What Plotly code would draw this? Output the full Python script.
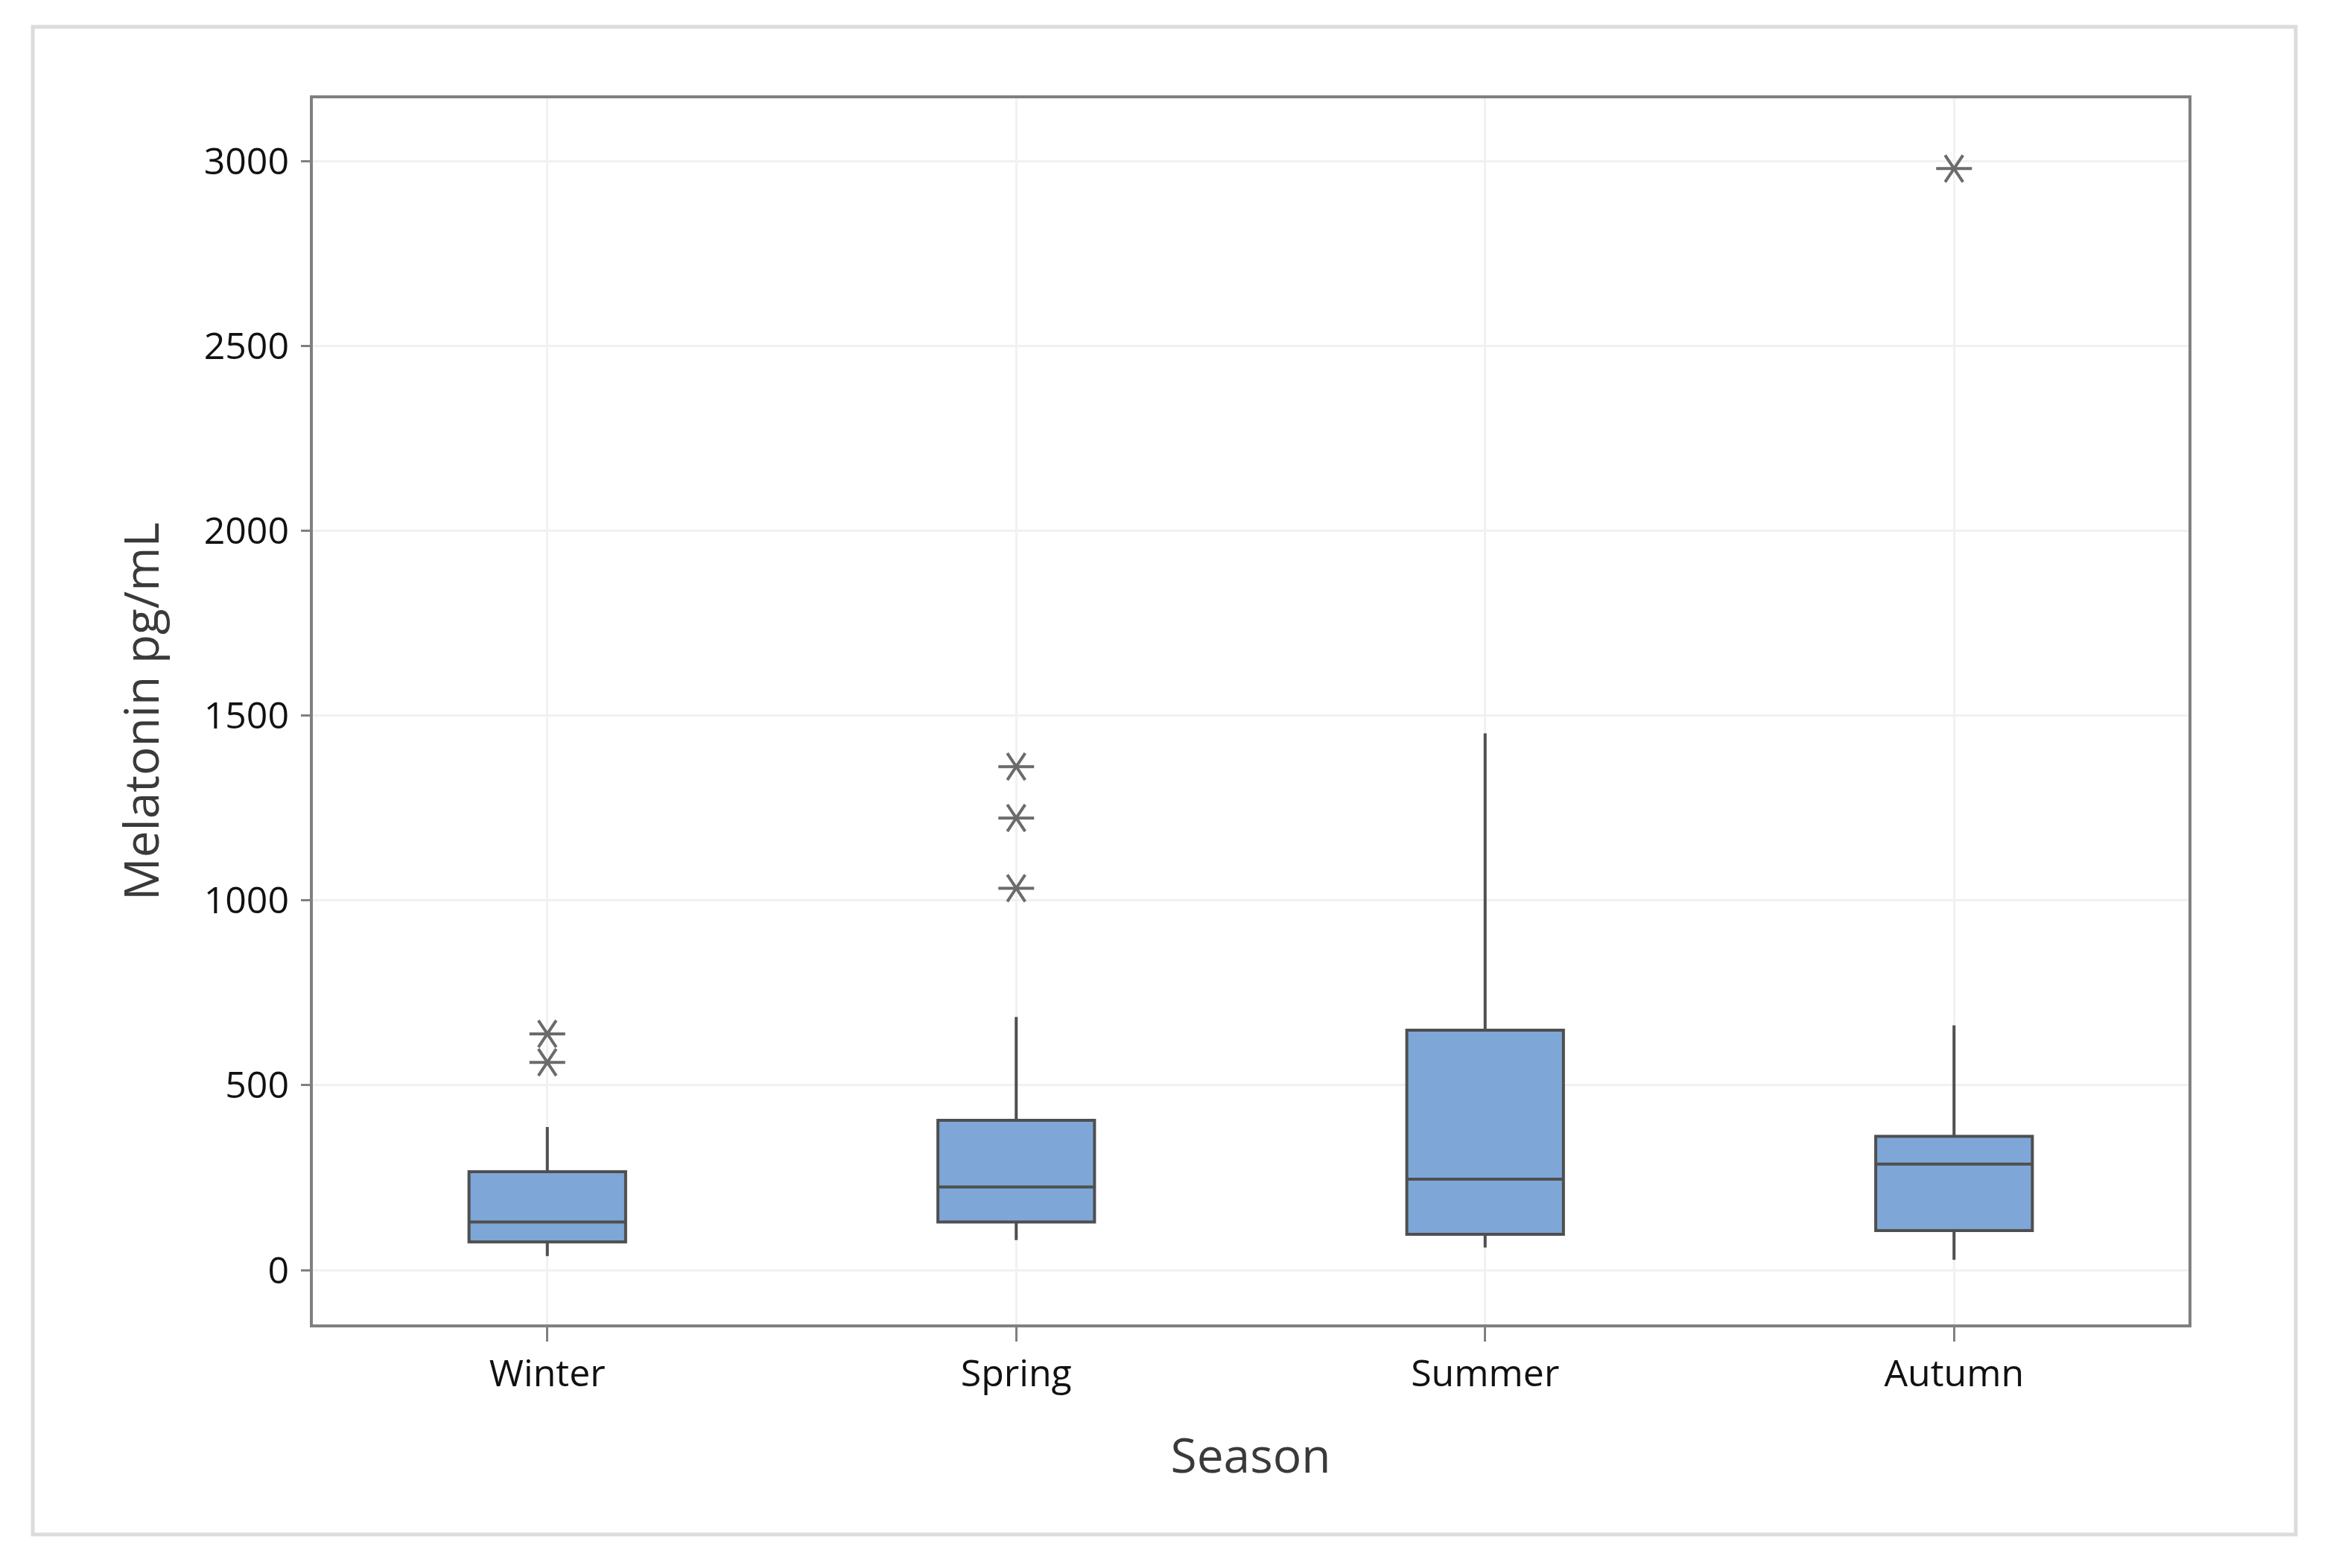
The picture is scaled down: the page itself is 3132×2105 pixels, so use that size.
import plotly.graph_objects as go

# ---- data ----
seasons = ["Winter", "Spring", "Summer", "Autumn"]
q1_vals = [76, 130, 97, 107]
median_vals = [130, 225, 246, 287]
q3_vals = [266, 405, 649, 362]
lower_whisker = [38, 81, 61, 28]
upper_whisker = [387, 685, 1452, 662]
outlier_season = ["Winter", "Winter", "Spring", "Spring", "Spring", "Autumn"]
outlier_value = [639, 562, 1362, 1223, 1033, 2980]
y_ticks = [0, 500, 1000, 1500, 2000, 2500, 3000]

BOX_FILL = "#7ea7d8"
BOX_LINE = "#4f4f4f"
STAR = "#6b6b6b"
AXIS = "#808080"
GRID = "#f1f1f1"
FONT = "Open Sans"

fig = go.Figure()
fig.add_trace(go.Box(
    x=seasons, q1=q1_vals, median=median_vals, q3=q3_vals,
    lowerfence=lower_whisker, upperfence=upper_whisker,
    fillcolor=BOX_FILL, line=dict(color=BOX_LINE, width=4),
    whiskerwidth=0, boxpoints=False, showlegend=False, hoverinfo="skip",
))
# six-armed asterisk outlier symbol (y-left + y-right)
for sym in ["y-left-open", "y-right-open"]:
    fig.add_trace(go.Scatter(
        x=outlier_season, y=outlier_value, mode="markers",
        marker=dict(symbol=sym, size=30, color=STAR,
                    line=dict(color=STAR, width=4)),
        showlegend=False, hoverinfo="skip",
    ))

L, R, T, B = 420, 194, 132, 327
W, H = 3132, 2105
pw, ph = W - L - R, H - T - B

def px_to_paper_x(px):
    return (px - L) / pw

def px_to_paper_y(py):
    return (H - B - py) / ph

fig.add_shape(type="rect", xref="paper", yref="paper",
              x0=px_to_paper_x(44), x1=px_to_paper_x(3082),
              y0=px_to_paper_y(2060), y1=px_to_paper_y(36),
              line=dict(color="#dcdcdc", width=5), fillcolor="rgba(0,0,0,0)",
              layer="below")

fig.update_layout(
    width=W, height=H,
    margin=dict(l=L, r=R, t=T, b=B),
    paper_bgcolor="white", plot_bgcolor="white",
    boxgap=0.666, boxgroupgap=0,
    font=dict(family=FONT, color="#111111"),
    xaxis=dict(
        type="category", categoryorder="array", categoryarray=seasons,
        range=[-0.5, 3.5],
        showgrid=True, gridcolor=GRID, gridwidth=3,
        showline=True, linecolor=AXIS, linewidth=4, mirror=True,
        ticks="outside", ticklen=19, tickwidth=3, tickcolor=AXIS,
        tickfont=dict(size=50, family=FONT, color="#111111"),
        title=dict(text="Season", font=dict(size=64, family=FONT, color="#3a3a3a"),
                   standoff=58),
        zeroline=False,
    ),
    yaxis=dict(
        range=[-147, 3170], tickvals=y_ticks,
        showgrid=True, gridcolor=GRID, gridwidth=3,
        showline=True, linecolor=AXIS, linewidth=4, mirror=True,
        ticks="outside", ticklen=12, tickwidth=3, tickcolor=AXIS,
        ticklabelstandoff=6,
        tickfont=dict(size=50, family=FONT, color="#111111"),
        title=dict(text="Melatonin pg/mL", font=dict(size=64, family=FONT, color="#3a3a3a"),
                   standoff=40),
        zeroline=False,
    ),
)

fig.write_html("out.html", config={"displayModeBar": False},
               post_script="document.body.style.margin='0';")
